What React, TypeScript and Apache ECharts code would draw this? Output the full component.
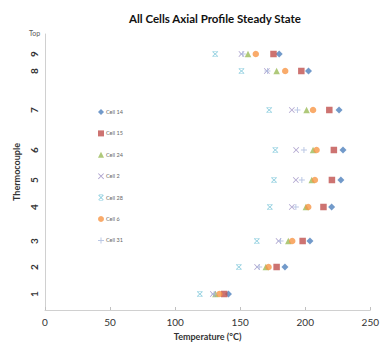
import React, { useEffect, useRef } from "react";
import * as echarts from "echarts";

const tcLabels = ["1", "2", "3", "4", "5", "6", "7", "8", "9"];
const tcPositions = [16, 43, 69, 103, 130, 160, 200, 239, 256];
const topPosition = 276;

const cellNames = ["Cell 14", "Cell 15", "Cell 24", "Cell 2", "Cell 28", "Cell 6", "Cell 31"];

const cell14 = [141, 184.4, 203.6, 220.3, 227.4, 229, 226, 202.5, 180];
const cell15 = [137.7, 178, 198, 214, 220.5, 222, 218.5, 197, 175.6];
const cell24 = [131, 169.7, 187, 200.5, 205, 206, 201, 178, 156];
const cell2 = [129, 163, 179.5, 189.7, 192.8, 193, 189.7, 170.5, 151];
const cell28 = [119, 149, 162.8, 172.8, 176, 177, 172.3, 151, 130.8];
const cell6 = [134, 171.8, 190, 202.3, 207.4, 208.7, 206, 184.6, 162];
const cell31 = [130, 164.6, 181, 192.8, 197.4, 199, 194, 171, 152];

const X_PATH = "path://M0,1L1,0L5,4L9,0L10,1L6,5L10,9L9,10L5,6L1,10L0,9L4,5Z";
const STAR_PATH =
  "path://M0,1.5L1,0.5L5,4.5L9,0.5L10,1.5L6,5.5L10,9.5L9,10.5L5,6.5L1,10.5L0,9.5L4,5.5ZM1.5,0H8.5V1H1.5ZM1.5,10H8.5V11H1.5Z";
const PLUS_PATH = "path://M4.2,0H5.8V4.2H10V5.8H5.8V10H4.2V5.8H0V4.2H4.2Z";

const FONT = "Lato, 'Open Sans', sans-serif";

export default function App() {
  const ref = useRef<HTMLDivElement>(null);
  useEffect(() => {
    if (!ref.current) return;
    const chart = echarts.init(ref.current, undefined, { renderer: "svg" });
    const seriesDefs = [
      { name: cellNames[0], data: cell14, color: "#4F81BD", symbol: "diamond", size: 7 },
      { name: cellNames[1], data: cell15, color: "#C0504D", symbol: "rect", size: 6.5 },
      { name: cellNames[2], data: cell24, color: "#9BBB59", symbol: "triangle", size: 6.5 },
      { name: cellNames[3], data: cell2, color: "#9A8CC2", symbol: X_PATH, size: 6 },
      { name: cellNames[4], data: cell28, color: "#6FC0D6", symbol: STAR_PATH, size: 6 },
      { name: cellNames[5], data: cell6, color: "#F79646", symbol: "circle", size: 6.5 },
      { name: cellNames[6], data: cell31, color: "#A9B9DD", symbol: PLUS_PATH, size: 6 },
    ];
    const labelMap: Record<number, string> = {};
    tcPositions.forEach((p, i) => (labelMap[p] = tcLabels[i]));
    chart.setOption({
      animation: false,
      backgroundColor: "#ffffff",
      textStyle: { fontFamily: FONT },
      title: {
        text: "All Cells Axial Profile Steady State",
        left: 124,
        top: 7,
        textStyle: { fontSize: 11.5, fontWeight: "bold", color: "#111111", fontFamily: FONT },
      },
      legend: {
        orient: "vertical",
        left: 93,
        top: 104,
        itemWidth: 6,
        itemHeight: 6,
        itemGap: 15.4,
        itemStyle: { borderWidth: 0 },
        textStyle: { fontSize: 5.5, color: "#666666", padding: [0, 0, 0, -3] },
        data: cellNames,
      },
      grid: { left: 45, right: 11, top: 34, bottom: 37 },
      xAxis: {
        type: "value",
        min: 0,
        max: 250,
        interval: 50,
        name: "Temperature (°C)",
        nameLocation: "middle",
        nameGap: 22,
        nameTextStyle: { fontSize: 9, fontWeight: "bold", color: "#333333" },
        axisLine: { show: true, lineStyle: { color: "#d0d0d0", width: 1 } },
        axisTick: { show: true, inside: true, length: 3, lineStyle: { color: "#c0c0c0" } },
        axisLabel: { fontSize: 10, color: "#333333", margin: 7 },
        splitLine: { show: false },
      },
      yAxis: {
        type: "value",
        min: 0,
        max: topPosition,
        name: "Thermocouple",
        nameLocation: "middle",
        nameRotate: 90,
        nameGap: 22,
        nameTextStyle: { fontSize: 9, fontWeight: "bold", color: "#333333" },
        axisLine: { show: true, lineStyle: { color: "#d0d0d0", width: 1 } },
        axisTick: { show: false },
        splitLine: { show: false },
        axisLabel: {
          customValues: tcPositions,
          formatter: (v: number) => labelMap[v] ?? "",
          rotate: 90,
          fontSize: 10,
          fontWeight: "bold",
          color: "#333333",
          margin: 6,
        },
      },
      graphic: [
        {
          type: "text",
          left: 29,
          top: 29,
          style: { text: "Top", fontSize: 7, fill: "#595959", fontFamily: FONT },
        },
      ],
      series: seriesDefs.map((s) => ({
        name: s.name,
        type: "scatter",
        symbol: s.symbol,
        symbolSize: s.size,
        itemStyle: { color: s.color },
        data: s.data.map((t, i) => [t, tcPositions[i]]),
      })),
    });
    return () => chart.dispose();
  }, []);
  return <div ref={ref} style={{ width: 382, height: 347, position: "absolute", left: 0, top: 0 }} />;
}
